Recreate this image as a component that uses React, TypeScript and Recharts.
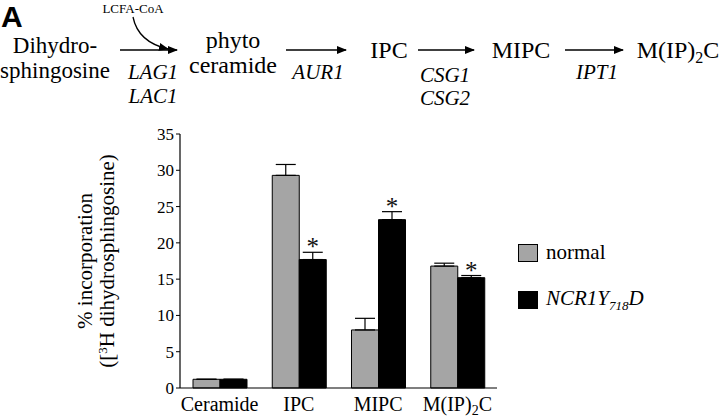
import { Bar, BarChart, ErrorBar, LabelList, XAxis, YAxis } from 'recharts'

const categories = ['Ceramide', 'IPC', 'MIPC', 'M(IP)2C']
const normalValues = [1.2, 29.3, 8.0, 16.8]
const normalErrors = [0, 1.5, 1.6, 0.4]
const mutantValues = [1.2, 17.7, 23.2, 15.2]
const mutantErrors = [0, 1.0, 1.1, 0.3]
const significant = ['', '*', '*', '*']
const yTicks = [0, 5, 10, 15, 20, 25, 30, 35]

const data = categories.map((name, i) => ({
  name,
  normal: normalValues[i],
  normalErr: [0, normalErrors[i]],
  mutant: mutantValues[i],
  mutantErr: [0, mutantErrors[i]],
  star: significant[i],
}))

const FONT = 'Liberation Serif, DejaVu Serif, Noto Serif, Times New Roman, Times, serif'

function SubLabel({ text }: { text: string }) {
  // "M(IP)2C" -> M(IP) + subscript 2 + C
  const m = text.match(/^(.*\))(\d)(.*)$/)
  if (!m) return <>{text}</>
  return (
    <>
      {m[1]}
      <tspan dy={4} fontSize="0.7em">{m[2]}</tspan>
      <tspan dy={-4}>{m[3]}</tspan>
    </>
  )
}

function CategoryTick(props: any) {
  const { x, y, payload } = props
  return (
    <text x={x} y={y + 15} textAnchor="middle" fontFamily={FONT} fontSize={20} fill="#000">
      <SubLabel text={payload.value} />
    </text>
  )
}

function StarLabel(props: any) {
  const { x, y, width, height, value, index } = props
  if (!value) return null
  const perUnit = height / mutantValues[index]
  const errTop = y - mutantErrors[index] * perUnit
  return (
    <text x={x + width / 2} y={errTop + 3} textAnchor="middle" fontFamily={FONT} fontSize={25} fill="#111">
      {value}
    </text>
  )
}

function LegendBox() {
  const row = (fill: string, label: React.ReactNode, top: number) => (
    <div style={{ position: 'absolute', left: 0, top, display: 'flex', alignItems: 'center' }}>
      <div style={{ width: 18, height: 16, background: fill, border: '1px solid #000' }} />
      <span style={{ marginLeft: 8, fontFamily: FONT, fontSize: 21, color: '#000' }}>{label}</span>
    </div>
  )
  return (
    <div style={{ position: 'absolute', left: 518, top: 240, width: 200, height: 80 }}>
      {row('#a5a5a5', 'normal', 0)}
      {row('#000', <i>NCR1Y<sub style={{ fontSize: 13 }}>718</sub>D</i>, 46)}
    </div>
  )
}

function Pathway() {
  const t = { fontFamily: FONT, fill: '#000' }
  const arrow = (x1: number, x2: number) => (
    <line x1={x1} y1={50} x2={x2} y2={50} stroke="#000" strokeWidth={1.6} markerEnd="url(#head)" />
  )
  return (
    <svg width={720} height={120} style={{ position: 'absolute', left: 0, top: 0 }}>
      <defs>
        <marker id="head" markerWidth="10" markerHeight="8" refX="9" refY="4" orient="auto" markerUnits="userSpaceOnUse">
          <path d="M0,0 L10,4 L0,8 z" fill="#000" />
        </marker>
      </defs>
      <text x={1} y={27} fontFamily="Liberation Sans, Arial, sans-serif" fontWeight="bold" fontSize={30} fill="#000">A</text>
      <text x={133} y={13} textAnchor="middle" fontSize={13} {...t}>LCFA-CoA</text>
      <path d="M133,17 Q138,42 168,49" stroke="#000" strokeWidth={1.3} fill="none" markerEnd="url(#head)" />
      <text x={55} y={53} textAnchor="middle" fontSize={23} {...t}>Dihydro-</text>
      <text x={55} y={78} textAnchor="middle" fontSize={23} {...t}>sphingosine</text>
      {arrow(120, 177)}
      <text x={153} y={79} textAnchor="middle" fontSize={21} fontStyle="italic" {...t}>LAG1</text>
      <text x={153} y={103} textAnchor="middle" fontSize={21} fontStyle="italic" {...t}>LAC1</text>
      <text x={233} y={48} textAnchor="middle" fontSize={24} {...t}>phyto</text>
      <text x={233} y={73} textAnchor="middle" fontSize={24} {...t}>ceramide</text>
      {arrow(286, 346)}
      <text x={318} y={79} textAnchor="middle" fontSize={21} fontStyle="italic" {...t}>AUR1</text>
      <text x={389} y={58} textAnchor="middle" fontSize={24} {...t}>IPC</text>
      {arrow(418, 474)}
      <text x={445} y={82} textAnchor="middle" fontSize={21} fontStyle="italic" {...t}>CSG1</text>
      <text x={445} y={105} textAnchor="middle" fontSize={21} fontStyle="italic" {...t}>CSG2</text>
      <text x={521} y={58} textAnchor="middle" fontSize={24} {...t}>MIPC</text>
      {arrow(565, 623)}
      <text x={597} y={79} textAnchor="middle" fontSize={21} fontStyle="italic" {...t}>IPT1</text>
      <text x={678} y={58} textAnchor="middle" fontSize={24} {...t}>
        M(IP)<tspan dy={5} fontSize={16}>2</tspan><tspan dy={-5}>C</tspan>
      </text>
    </svg>
  )
}

export default function App() {
  return (
    <div style={{ position: 'absolute', left: 0, top: 0, width: 720, height: 419, background: '#fff' }}>
      <Pathway />
      <svg width={130} height={419} style={{ position: 'absolute', left: 0, top: 0 }}>
        <g transform="translate(92,261) rotate(-90)">
          <text textAnchor="middle" fontFamily={FONT} fontSize={21} fill="#000" y={0}>% incorporation</text>
          <text textAnchor="middle" fontFamily={FONT} fontSize={21} fill="#000" y={22}>
            ([<tspan dy={-7} fontSize={13}>3</tspan><tspan dy={7}>H dihydrosphingosine)</tspan>
          </text>
        </g>
      </svg>
      <LegendBox />
      <div style={{ position: 'absolute', left: 0, top: 0 }}>
        <BarChart
          width={720}
          height={419}
          data={data}
          margin={{ top: 134, right: 223, bottom: 0, left: 120 }}
          barCategoryGap="16%"
          barGap={0}
        >
          <XAxis
            dataKey="name"
            height={31}
            tick={<CategoryTick />}
            tickLine={false}
            axisLine={{ stroke: '#000', strokeWidth: 1.2 }}
          />
          <XAxis xAxisId="top" orientation="top" dataKey="name" height={0} tick={false} tickLine={false} axisLine={{ stroke: '#555', strokeWidth: 1.2 }} />
          <YAxis
            domain={[0, 35]}
            ticks={yTicks}
            width={60}
            interval={0}
            tickSize={4}
            tick={{ fontFamily: FONT, fontSize: 17, fill: '#000' }}
            tickLine={{ stroke: '#000' }}
            axisLine={{ stroke: '#000', strokeWidth: 1.2 }}
          />
          <YAxis yAxisId="right" orientation="right" domain={[0, 35]} width={0} tick={false} tickLine={false} axisLine={{ stroke: '#555', strokeWidth: 1.2 }} />
          <Bar dataKey="normal" name="normal" fill="#a5a5a5" stroke="#000" strokeWidth={1} barSize={27} isAnimationActive={false}>
            <ErrorBar dataKey="normalErr" width={10} stroke="#000" strokeWidth={1.2} />
          </Bar>
          <Bar dataKey="mutant" name="NCR1Y718D" fill="#000" stroke="#000" strokeWidth={1} barSize={27} isAnimationActive={false}>
            <ErrorBar dataKey="mutantErr" width={10} stroke="#000" strokeWidth={1.2} />
            <LabelList dataKey="star" content={<StarLabel />} />
          </Bar>
        </BarChart>
      </div>
    </div>
  )
}
